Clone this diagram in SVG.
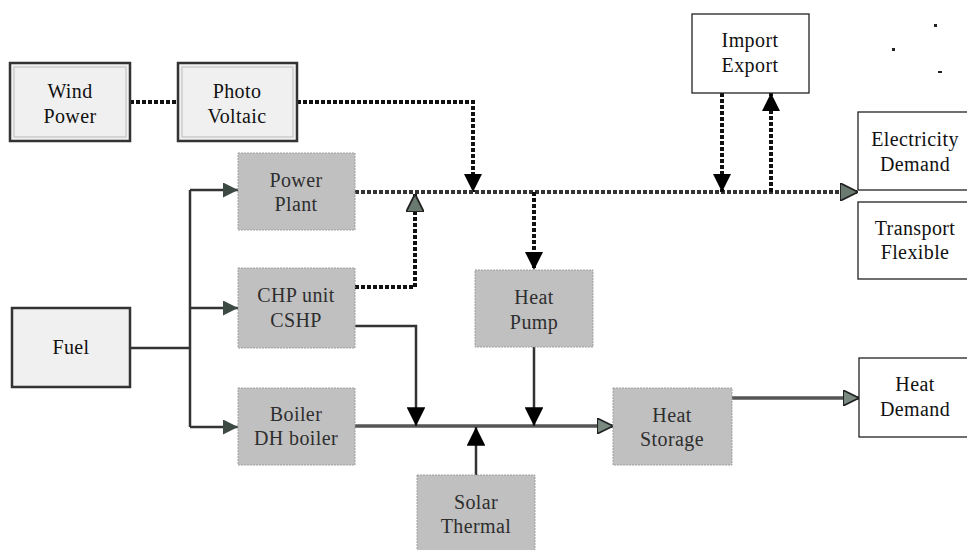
<svg xmlns="http://www.w3.org/2000/svg" width="967" height="550" viewBox="0 0 967 550">
<style>
.t{font-family:"Liberation Serif","Times New Roman",serif;font-size:20px;letter-spacing:0.4px;text-anchor:middle;fill:#111}
.tg{fill:#2e2e2e}
.g{fill:#c0c0c0;stroke:#a0a0a0;stroke-width:1;stroke-dasharray:2 1}
.w{fill:#fff;stroke:#222;stroke-width:1.3}
.d{fill:#f0f0f0;stroke:#333;stroke-width:2.5}
.dot{fill:none;stroke:#111;stroke-width:4;stroke-dasharray:4 2}
.dotg{fill:none;stroke:#333;stroke-width:4;stroke-dasharray:4 2}
.s{fill:none;stroke:#333;stroke-width:2.5}
.h{fill:none;stroke:#555;stroke-width:3.5}
</style>
<defs>
<marker id="ab" viewBox="0 0 10 10" refX="10" refY="5" markerWidth="4.5" markerHeight="4.5" orient="auto" markerUnits="strokeWidth"><path d="M0,0 L10,5 L0,10 Z" fill="#000"/></marker>
<marker id="abs" viewBox="0 0 10 10" refX="10" refY="5" markerWidth="7.5" markerHeight="7.5" orient="auto" markerUnits="strokeWidth"><path d="M0,0 L10,5 L0,10 Z" fill="#000"/></marker>
<marker id="ag" viewBox="0 0 10 10" refX="10" refY="5" markerWidth="4.5" markerHeight="4.5" orient="auto" markerUnits="strokeWidth"><path d="M0,0 L10,5 L0,10 Z" fill="#6a7a70" stroke="#222" stroke-width="1"/></marker>
<marker id="agh" viewBox="0 0 10 10" refX="10" refY="5" markerWidth="4.5" markerHeight="4.5" orient="auto" markerUnits="strokeWidth"><path d="M0,0 L10,5 L0,10 Z" fill="#7a8a80" stroke="#222" stroke-width="1"/></marker>
<marker id="af" viewBox="0 0 10 10" refX="10" refY="5" markerWidth="6" markerHeight="6" orient="auto" markerUnits="strokeWidth"><path d="M0,0 L10,5 L0,10 Z" fill="#3d4a44"/></marker>
</defs>

<g id="connectors">
  <!-- electricity -->
  <line class="dot" x1="130" y1="102" x2="178" y2="102"/>
  <polyline class="dot" points="297,102 473,102 473,192" marker-end="url(#ab)"/>
  <line class="dotg" x1="355" y1="192" x2="858" y2="192" marker-end="url(#ag)"/>
  <polyline class="dot" points="355,287 415,287 415,194" marker-end="url(#ag)"/>
  <line class="dot" x1="534" y1="192" x2="534" y2="270" marker-end="url(#ab)"/>
  <line class="dot" x1="722" y1="93" x2="722" y2="192" marker-end="url(#ab)"/>
  <line class="dot" x1="771" y1="192" x2="771" y2="93" marker-end="url(#ab)"/>
  <!-- fuel -->
  <polyline class="s" points="130,348 190,348"/>
  <polyline class="s" points="190,427 190,190"/>
  <line class="s" x1="190" y1="190" x2="238" y2="190" marker-end="url(#af)"/>
  <line class="s" x1="190" y1="308" x2="238" y2="308" marker-end="url(#af)"/>
  <line class="s" x1="190" y1="427" x2="238" y2="427" marker-end="url(#af)"/>
  <!-- heat -->
  <line class="h" x1="355" y1="426" x2="613" y2="426" marker-end="url(#agh)"/>
  <polyline class="s" points="355,326 416,326 416,426" marker-end="url(#abs)"/>
  <line class="s" x1="534" y1="347" x2="534" y2="426" marker-end="url(#abs)"/>
  <line class="s" x1="476" y1="475" x2="476" y2="427" marker-end="url(#abs)"/>
  <line class="h" x1="732" y1="398" x2="859" y2="398" marker-end="url(#agh)"/>
</g>

<g id="wind"><rect class="d" x="10" y="63" width="120" height="78"/><rect x="14" y="67" width="112" height="70" fill="none" stroke="#bbb" stroke-width="1"/><text class="t" x="70" y="98">Wind</text><text class="t" x="70" y="123">Power</text></g>
<g id="pv"><rect class="d" x="178" y="63" width="119" height="78"/><rect x="182" y="67" width="111" height="70" fill="none" stroke="#bbb" stroke-width="1"/><text class="t" x="237" y="98">Photo</text><text class="t" x="237" y="123">Voltaic</text></g>
<g id="powerplant"><rect class="g" x="238" y="153" width="117" height="77"/><text class="t tg" x="296" y="187">Power</text><text class="t tg" x="296" y="211">Plant</text></g>
<g id="chp"><rect class="g" x="238" y="268" width="117" height="80"/><text class="t tg" x="296" y="302">CHP unit</text><text class="t tg" x="296" y="327">CSHP</text></g>
<g id="boiler"><rect class="g" x="238" y="388" width="117" height="77"/><text class="t tg" x="296" y="421">Boiler</text><text class="t tg" x="296" y="445">DH boiler</text></g>
<g id="fuel"><rect class="d" x="12" y="308" width="118" height="79"/><text class="t" x="71" y="354">Fuel</text></g>
<g id="heatpump"><rect class="g" x="475" y="270" width="118" height="77"/><text class="t tg" x="534" y="304">Heat</text><text class="t tg" x="534" y="329">Pump</text></g>
<g id="heatstorage"><rect class="g" x="613" y="388" width="119" height="77"/><text class="t tg" x="672" y="422">Heat</text><text class="t tg" x="672" y="446">Storage</text></g>
<g id="solar"><rect class="g" x="417" y="475" width="118" height="78"/><text class="t tg" x="476" y="509">Solar</text><text class="t tg" x="476" y="533">Thermal</text></g>
<g id="importexport"><rect class="w" x="692" y="14" width="117" height="79"/><text class="t" x="750" y="47">Import</text><text class="t" x="750" y="72">Export</text></g>
<g id="elecdemand"><rect class="w" x="858" y="112" width="115" height="78"/><text class="t" x="915" y="146">Electricity</text><text class="t" x="915" y="171">Demand</text></g>
<g id="transport"><rect class="w" x="858" y="202" width="115" height="77"/><text class="t" x="915" y="235">Transport</text><text class="t" x="915" y="259">Flexible</text></g>
<g id="heatdemand"><rect class="w" x="859" y="358" width="115" height="79"/><text class="t" x="915" y="391">Heat</text><text class="t" x="915" y="416">Demand</text></g>
<g id="marks" fill="#222"><rect x="934" y="24" width="3" height="3"/><rect x="892" y="48" width="3" height="3"/><rect x="938" y="71" width="4" height="2"/></g>
</svg>
